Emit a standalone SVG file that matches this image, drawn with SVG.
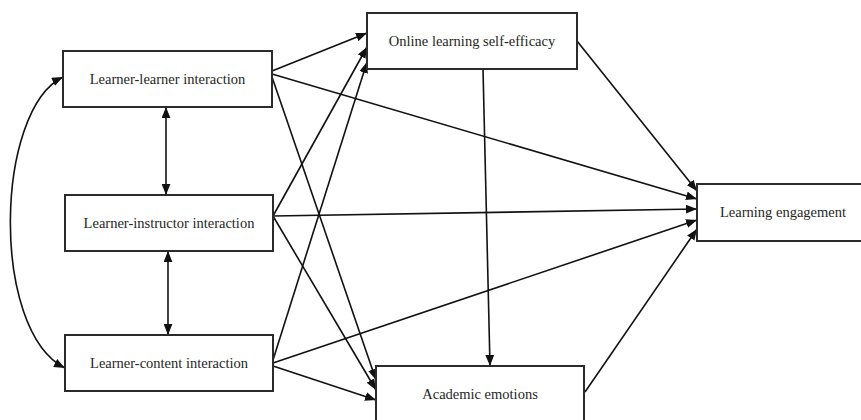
<svg xmlns="http://www.w3.org/2000/svg" width="861" height="420" viewBox="0 0 861 420">
  <defs>
    <marker id="arrow" viewBox="0 0 10 8" refX="10" refY="4" markerUnits="userSpaceOnUse" markerWidth="11" markerHeight="9" orient="auto-start-reverse">
      <path d="M0,0 L10,4 L0,8 z" fill="#111"/>
    </marker>
    <style>
      .box { fill: #fff; stroke: #2b2b2b; stroke-width: 2; }
      .label { font-family: "Liberation Serif", "Times New Roman", serif; font-size: 14.5px; fill: #262626; text-anchor: middle; }
      .edge { fill: none; stroke: #111; stroke-width: 1.6; marker-end: url(#arrow); }
      .both { marker-start: url(#arrow); }
    </style>
  </defs>
  <rect width="861" height="420" fill="#fff"/>

  <g id="connectors">
    <!-- correlations among the three interaction types -->
    <path class="edge both" d="M63,77 C-5,110 -10,330 65,368"/>
    <line class="edge both" x1="166" y1="107" x2="166" y2="195"/>
    <line class="edge both" x1="168" y1="251" x2="168" y2="335"/>

    <!-- learner-learner interaction paths -->
    <line class="edge" x1="272" y1="71" x2="367" y2="33"/>
    <line class="edge" x1="272" y1="74" x2="697" y2="199"/>
    <line class="edge" x1="272" y1="77" x2="376" y2="380"/>

    <!-- learner-instructor interaction paths -->
    <line class="edge" x1="273" y1="216" x2="367" y2="47"/>
    <line class="edge" x1="273" y1="216" x2="697" y2="209"/>
    <line class="edge" x1="273" y1="216" x2="376" y2="390"/>

    <!-- learner-content interaction paths -->
    <line class="edge" x1="273" y1="360" x2="367" y2="62"/>
    <line class="edge" x1="273" y1="363" x2="697" y2="220"/>
    <line class="edge" x1="273" y1="366" x2="376" y2="400"/>

    <!-- mediators -->
    <line class="edge" x1="483" y1="69" x2="490" y2="366"/>
    <line class="edge" x1="577" y1="41" x2="697" y2="191"/>
    <line class="edge" x1="585" y1="392" x2="697" y2="229"/>
  </g>

  <g id="learner-learner">
    <rect class="box" x="63" y="51" width="209" height="56"/>
    <text class="label" x="167.5" y="84">Learner-learner interaction</text>
  </g>
  <g id="learner-instructor">
    <rect class="box" x="65" y="195" width="208" height="56"/>
    <text class="label" x="169" y="228">Learner-instructor interaction</text>
  </g>
  <g id="learner-content">
    <rect class="box" x="65" y="335" width="208" height="56"/>
    <text class="label" x="169" y="368">Learner-content interaction</text>
  </g>
  <g id="self-efficacy">
    <rect class="box" x="367" y="13" width="210" height="56"/>
    <text class="label" x="472" y="46">Online learning self-efficacy</text>
  </g>
  <g id="academic-emotions">
    <rect class="box" x="376" y="366" width="208" height="56"/>
    <text class="label" x="480" y="399">Academic emotions</text>
  </g>
  <g id="learning-engagement">
    <rect class="box" x="697" y="184" width="172" height="57"/>
    <text class="label" x="783" y="217">Learning engagement</text>
  </g>
</svg>
